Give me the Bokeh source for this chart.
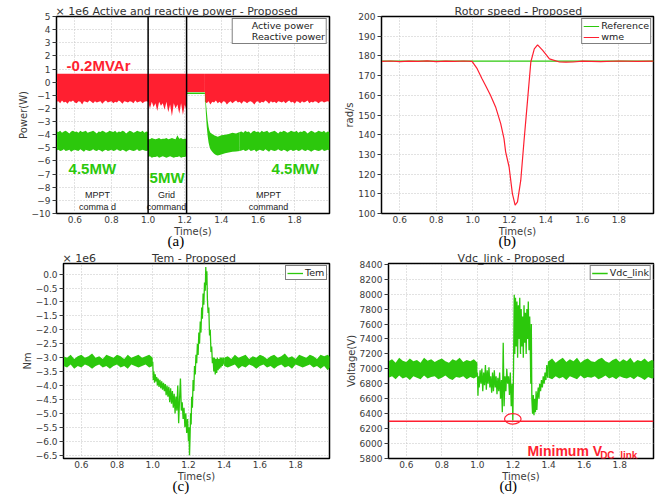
import numpy as np
from bokeh.plotting import figure
from bokeh.layouts import row, column
from bokeh.models import Label, Legend, LegendItem, Span, FixedTicker, Title
from bokeh.core.properties import value
from bokeh.embed import file_html
from bokeh.resources import INLINE

GREEN = "#2cc80c"
RED = "#ff1f30"
FONT = "DejaVu Sans"
TICKC = "#3a3a3a"
NB = "\u00a0"

# ---------------- common ticks ----------------
x_ticks = [0.6, 0.8, 1.0, 1.2, 1.4, 1.6, 1.8]
x_tick_labels = ["0.6", "0.8", "1.0", "1.2", "1.4", "1.6", "1.8"]

# ---------------- (a) active / reactive power (x 1e6 W) ----------------
a_y_ticks = [5, 4, 3, 2, 1, 0, -1, -2, -3, -4, -5, -6, -7, -8, -9, -10]
a_y_labels = ["5", "4", "3", "2", "1", "0", "\u22121", "\u22122", "\u22123", "\u22124", "\u22125",
              "\u22126", "\u22127", "\u22128", "\u22129", "\u221210"]
a_cmd_times = [1.0, 1.21]
q_top = 0.65
# reactive power lower envelope, 0.50-1.00 step 0.01
q1_lo = [-1.5, -1.45, -1.6, -1.4, -1.55, -1.5, -1.65, -1.45, -1.5, -1.4,
         -1.55, -1.6, -1.45, -1.5, -1.7, -1.45, -1.5, -1.55, -1.4, -1.5,
         -1.6, -1.45, -1.55, -1.5, -1.45, -1.65, -1.5, -1.4, -1.55, -1.5,
         -1.45, -1.6, -1.5, -1.55, -1.4, -1.5, -1.65, -1.45, -1.5, -1.55,
         -1.45, -1.5, -1.6, -1.4, -1.55, -1.5, -1.45, -1.6, -1.5, -1.45, -1.5]
# 1.00-1.21 step 0.01
q2_lo = [-1.5, -2.0, -1.5, -1.9, -1.6, -2.2, -1.5, -1.8, -1.6, -2.1, -1.5,
         -2.3, -1.7, -2.6, -1.6, -2.0, -1.7, -2.4, -1.6, -2.5, -1.7, -2.2]
# 1.21-1.31
q3_t = [1.21, 1.31]
q3_lo = [-0.75, -0.75]
# 1.31-1.99 step 0.01
q4_lo = [-1.5, -1.6, -1.45, -1.7, -1.5, -1.55, -1.4, -1.6, -1.5, -1.65,
         -1.45, -1.5, -1.7, -1.55, -1.45, -1.6, -1.5, -1.4, -1.55, -1.5,
         -1.65, -1.45, -1.5, -1.6, -1.5, -1.45, -1.55, -1.7, -1.5, -1.45,
         -1.6, -1.5, -1.55, -1.4, -1.5, -1.65, -1.45, -1.55, -1.5, -1.6,
         -1.45, -1.5, -1.55, -1.45, -1.6, -1.5, -1.4, -1.55, -1.5, -1.65,
         -1.45, -1.5, -1.6, -1.45, -1.55, -1.5, -1.4, -1.6, -1.5, -1.55,
         -1.45, -1.5, -1.6, -1.5, -1.45, -1.55, -1.5, -1.45, -1.5]
# active power envelopes
p1_hi = [-3.75, -3.8, -3.7, -3.85, -3.75, -3.7, -3.8, -3.9, -3.75, -3.7,
         -3.8, -3.75, -3.85, -3.7, -3.8, -3.75, -3.7, -3.85, -3.8, -3.75,
         -3.7, -3.8, -3.9, -3.75, -3.8, -3.7, -3.75, -3.85, -3.8, -3.7,
         -3.75, -3.8, -3.7, -3.85, -3.75, -3.8, -3.7, -3.75, -3.9, -3.8,
         -3.7, -3.75, -3.85, -3.8, -3.7, -3.75, -3.8, -3.7, -3.85, -3.75, -3.8]
p1_lo = [-5.2, -5.15, -5.25, -5.2, -5.1, -5.25, -5.2, -5.15, -5.3, -5.2,
         -5.15, -5.2, -5.25, -5.1, -5.2, -5.3, -5.15, -5.2, -5.25, -5.2,
         -5.1, -5.2, -5.25, -5.15, -5.2, -5.3, -5.2, -5.15, -5.25, -5.2,
         -5.15, -5.25, -5.2, -5.1, -5.2, -5.25, -5.15, -5.2, -5.3, -5.2,
         -5.15, -5.2, -5.25, -5.2, -5.1, -5.25, -5.2, -5.15, -5.2, -5.25, -5.2]
p2_hi = [-4.3, -4.35, -4.25, -4.3, -4.35, -4.3, -4.25, -4.35, -4.3, -4.3, -4.25,
         -4.35, -4.3, -4.25, -4.3, -4.35, -4.05, -4.3, -4.25, -4.35, -4.3, -4.3]
p2_lo = [-5.7, -5.65, -5.75, -5.7, -5.7, -5.65, -5.75, -5.7, -5.65, -5.7, -5.75,
         -5.7, -5.65, -5.7, -5.75, -5.7, -5.7, -5.65, -5.75, -5.7, -5.7, -5.65]
p3_t = [1.21, 1.31]
p3_hi = [-0.78, -0.78]
p3_lo = [-0.9, -0.9]
p4_t = [1.31, 1.315, 1.32, 1.325, 1.33, 1.335, 1.34, 1.35, 1.36, 1.37, 1.38,
        1.39, 1.40, 1.42, 1.44, 1.46, 1.48, 1.50]
p4_hi = [-0.78, -1.5, -2.2, -2.9, -3.4, -3.7, -3.85, -3.95, -4.05, -4.1, -4.15,
         -4.1, -4.05, -4.0, -3.95, -3.85, -3.9, -3.8]
p4_lo = [-0.9, -2.3, -3.4, -4.1, -4.6, -4.9, -5.1, -5.3, -5.45, -5.55, -5.58,
         -5.55, -5.5, -5.42, -5.35, -5.3, -5.28, -5.25]
p5_hi = [-3.8, -3.75, -3.85, -3.7, -3.8, -3.75, -3.9, -3.75, -3.7, -3.8,
         -3.75, -3.85, -3.7, -3.8, -3.75, -3.7, -3.85, -3.8, -3.75, -3.7,
         -3.8, -3.9, -3.75, -3.8, -3.7, -3.75, -3.85, -3.8, -3.7, -3.75,
         -3.8, -3.7, -3.85, -3.75, -3.8, -3.7, -3.75, -3.9, -3.8, -3.7,
         -3.75, -3.85, -3.8, -3.7, -3.75, -3.8, -3.7, -3.85, -3.75, -3.8]
p5_lo = [-5.25, -5.2, -5.15, -5.25, -5.2, -5.1, -5.25, -5.2, -5.15, -5.3,
         -5.2, -5.15, -5.2, -5.25, -5.1, -5.2, -5.3, -5.15, -5.2, -5.25,
         -5.2, -5.1, -5.2, -5.25, -5.15, -5.2, -5.3, -5.2, -5.15, -5.25,
         -5.2, -5.15, -5.25, -5.2, -5.1, -5.2, -5.25, -5.15, -5.2, -5.3,
         -5.2, -5.15, -5.2, -5.25, -5.2, -5.1, -5.25, -5.2, -5.15, -5.2]

# ---------------- (b) rotor speed ----------------
b_y_ticks = [100, 110, 120, 130, 140, 150, 160, 170, 180, 190, 200]
b_y_labels = [str(v) for v in b_y_ticks]
ref_t = [0.5, 1.99]
ref_w = [177.3, 177.3]
wme_t = [0.50, 0.55, 0.60, 0.65, 0.70, 0.75, 0.80, 0.85, 0.90, 0.95, 0.996, 1.024,
         1.05, 1.07, 1.097, 1.125, 1.153, 1.171, 1.18, 1.199, 1.217, 1.232, 1.245,
         1.263, 1.281, 1.30, 1.318, 1.337, 1.355, 1.383, 1.42, 1.475, 1.51, 1.549,
         1.60, 1.70, 1.80, 1.90, 1.99]
wme = [177.2, 177.4, 177.1, 177.3, 177.2, 177.5, 177.1, 177.3, 177.2, 177.4, 177.2,
       173.5, 168.5, 165.0, 160.0, 154.1, 145.6, 138.0, 131.3, 123.6, 110.1, 104.2,
       105.9, 116.9, 137.2, 157.4, 176.9, 183.6, 185.6, 182.8, 178.5, 176.9, 176.8,
       176.9, 177.3, 177.1, 177.4, 177.2, 177.3]

# ---------------- (c) Tem (x 1e6 Nm) ----------------
c_y_ticks = [0.0, -0.5, -1.0, -1.5, -2.0, -2.5, -3.0, -3.5, -4.0, -4.5, -5.0, -5.5, -6.0, -6.5]
c_y_labels = ["0.0", "\u22120.5", "\u22121.0", "\u22121.5", "\u22122.0", "\u22122.5", "\u22123.0",
              "\u22123.5", "\u22124.0", "\u22124.5", "\u22125.0", "\u22125.5", "\u22126.0", "\u22126.5"]
c1_hi = [-2.95, -3.0, -2.9, -3.05, -2.95, -2.9, -3.0, -2.95, -2.85, -3.0, -2.95, -3.05, -2.9,
         -2.95, -3.0, -2.9, -2.95, -3.05, -2.9, -3.0, -2.95, -2.9, -3.0, -2.95, -2.9, -3.0]
c1_lo = [-3.3, -3.35, -3.25, -3.4, -3.3, -3.35, -3.25, -3.3, -3.4, -3.3, -3.25, -3.35, -3.3,
         -3.4, -3.3, -3.25, -3.35, -3.3, -3.4, -3.25, -3.3, -3.35, -3.3, -3.25, -3.35, -3.3]
tem_t = [1.000, 1.003, 1.006, 1.010, 1.014, 1.018, 1.022, 1.026, 1.030, 1.035, 1.040, 1.045,
         1.050, 1.055, 1.060, 1.065, 1.070, 1.075, 1.080, 1.085, 1.090, 1.095, 1.100, 1.105,
         1.110, 1.115, 1.120, 1.125, 1.130, 1.135, 1.140, 1.145, 1.150, 1.155, 1.160, 1.165,
         1.170, 1.175, 1.180, 1.185, 1.190, 1.195, 1.200, 1.203, 1.206, 1.209, 1.212, 1.215,
         1.218, 1.222, 1.226, 1.230, 1.234, 1.238, 1.242, 1.246, 1.250, 1.254, 1.258, 1.262,
         1.266, 1.270, 1.274, 1.278, 1.282, 1.286, 1.290, 1.294, 1.297, 1.300, 1.303, 1.306,
         1.310, 1.314, 1.318, 1.322, 1.326, 1.330, 1.334, 1.338, 1.342, 1.346, 1.350, 1.354,
         1.358, 1.362, 1.366, 1.370, 1.374, 1.378, 1.382, 1.386, 1.390, 1.395, 1.400]
tem = [-3.15, -3.8, -3.5, -3.9, -3.6, -3.85, -3.7, -4.0, -3.75, -4.05, -3.8, -4.1,
       -3.85, -4.15, -3.9, -4.2, -3.95, -4.35, -4.0, -4.4, -4.05, -4.6, -4.1, -4.65,
       -4.2, -4.8, -4.3, -5.0, -4.4, -4.9, -4.0, -5.35, -4.5, -3.75, -4.9, -4.6,
       -5.2, -4.8, -5.5, -5.0, -5.7, -5.2, -6.0, -5.5, -6.5, -5.8, -5.0, -5.4,
       -4.4, -4.8, -3.8, -4.2, -3.3, -3.6, -2.9, -3.2, -2.5, -2.9, -2.1, -2.5,
       -1.7, -2.1, -1.2, -1.6, -0.7, -1.1, -0.3, -0.6, 0.25, -0.4, 0.1, -0.9,
       -1.4, -1.2, -2.2, -2.0, -2.8, -2.6, -3.2, -3.0, -3.5, -3.0, -3.6, -3.05,
       -3.55, -3.0, -3.45, -3.05, -3.4, -3.0, -3.35, -3.0, -3.3, -3.0, -3.25]
c2_hi = [-3.0, -2.95, -3.05, -2.9, -3.0, -2.95, -2.9, -3.05, -2.95, -3.0, -2.9, -2.95, -3.05,
         -2.95, -2.9, -3.0, -2.95, -2.85, -3.0, -2.95, -3.05, -2.9, -2.95, -3.0, -2.9, -2.95,
         -3.05, -2.9, -2.95, -2.9, -3.0]
c2_lo = [-3.3, -3.35, -3.3, -3.25, -3.4, -3.3, -3.35, -3.25, -3.3, -3.4, -3.3, -3.25, -3.35,
         -3.3, -3.4, -3.3, -3.25, -3.35, -3.3, -3.4, -3.25, -3.3, -3.35, -3.3, -3.25, -3.35,
         -3.3, -3.4, -3.3, -3.45, -3.3]

# ---------------- (d) Vdc_link (V) ----------------
d_y_ticks = [5800, 6000, 6200, 6400, 6600, 6800, 7000, 7200, 7400, 7600, 7800, 8000, 8200, 8400]
d_y_labels = [str(v) for v in d_y_ticks]
d1_hi = [7100, 7130, 7080, 7150, 7110, 7090, 7140, 7100, 7120, 7080, 7150, 7110, 7130,
         7090, 7120, 7140, 7100, 7080, 7130, 7110, 7150, 7090, 7120, 7100, 7130, 7080]
d1_lo = [6880, 6900, 6860, 6910, 6870, 6890, 6850, 6900, 6880, 6860, 6910, 6870, 6890,
         6900, 6860, 6880, 6910, 6870, 6850, 6890, 6880, 6900, 6860, 6890, 6870, 6900]
vdc_t = [1.000, 1.003, 1.006, 1.010, 1.015, 1.020, 1.025, 1.030, 1.035, 1.040, 1.045, 1.050,
         1.055, 1.060, 1.065, 1.070, 1.075, 1.080, 1.085, 1.090, 1.095, 1.100, 1.105, 1.110,
         1.115, 1.120, 1.125, 1.130, 1.135, 1.140, 1.145, 1.150, 1.155, 1.160, 1.165, 1.170,
         1.175, 1.180, 1.185, 1.190, 1.195, 1.199, 1.203, 1.207, 1.210, 1.214, 1.218, 1.222,
         1.226, 1.230, 1.234, 1.238, 1.242, 1.246, 1.250, 1.254, 1.258, 1.262, 1.266, 1.270,
         1.274, 1.278, 1.282, 1.286, 1.290, 1.294, 1.297, 1.300, 1.303, 1.306, 1.310, 1.314,
         1.318, 1.322, 1.326, 1.330, 1.334, 1.338, 1.342, 1.346, 1.350, 1.355, 1.360, 1.365,
         1.370, 1.375, 1.380, 1.385, 1.390, 1.395, 1.400]
vdc = [6950, 6640, 6900, 6750, 6980, 6800, 7000, 6700, 6950, 6780, 7050, 6720,
       6980, 6800, 7020, 6750, 6900, 6680, 6950, 6700, 6980, 6750, 6900, 6660,
       6880, 6700, 6950, 6600, 6850, 6420, 7350, 6500, 6900, 6700, 7000, 6800,
       6900, 6650, 6950, 6500, 6800, 6310, 7000, 7990, 7200, 7950, 7300, 7900,
       7150, 7850, 7400, 7950, 7200, 7800, 7300, 7700, 7150, 7850, 7350, 7750,
       7200, 7800, 7400, 7900, 7250, 7700, 7300, 6800, 7600, 6600, 6400, 6650,
       6380, 6600, 6420, 6700, 6450, 6650, 6750, 6600, 6800, 6700, 6850, 6750,
       6900, 6800, 6950, 6850, 7050, 6880, 7100]
d2_hi = [7100, 7140, 7080, 7120, 7150, 7090, 7130, 7100, 7150, 7080, 7120, 7140, 7100, 7090,
         7130, 7150, 7100, 7080, 7120, 7140, 7090, 7130, 7100, 7150, 7080, 7120, 7100, 7140,
         7090, 7120, 7100]
d2_lo = [6880, 6860, 6900, 6870, 6890, 6850, 6900, 6880, 6860, 6910, 6870, 6890, 6880, 6900,
         6860, 6880, 6910, 6870, 6890, 6860, 6900, 6880, 6870, 6890, 6860, 6900, 6880, 6850,
         6890, 6870, 6880]
vdc_min = 6300
vdc_min_t = [1.199]
vdc_min_v = [6330]


def tgrid(start, vals, step):
    return [round(start + step * i, 4) for i in range(len(vals))]


def make_fig(w, h, yr, bl, br, bt, bb):
    p = figure(width=w, height=h, x_range=(0.5, 1.99), y_range=yr,
               output_backend="svg", toolbar_location=None, title=None,
               min_border_left=bl, min_border_right=br, min_border_top=bt,
               min_border_bottom=bb)
    p.background_fill_color = "white"
    p.border_fill_color = "white"
    p.outline_line_color = "black"
    p.outline_line_width = 1.5
    p.grid.grid_line_color = "#c4c4c4"
    p.grid.grid_line_dash = "1 2"
    return p


def style_axes(p, yt, yl, ylabel):
    p.xaxis.ticker = FixedTicker(ticks=x_ticks)
    p.xaxis.major_label_overrides = {t: l for t, l in zip(x_ticks, x_tick_labels)}
    p.yaxis.ticker = FixedTicker(ticks=yt)
    p.yaxis.major_label_overrides = {t: l for t, l in zip(yt, yl)}
    p.xaxis.axis_label = "Time(s)"
    p.yaxis.axis_label = ylabel
    for ax in (p.xaxis[0], p.yaxis[0]):
        ax.axis_line_color = "black"
        ax.major_label_text_font = FONT
        ax.major_label_text_font_size = "9px"
        ax.major_label_text_color = TICKC
        ax.axis_label_text_font = FONT
        ax.axis_label_text_font_size = "10px"
        ax.axis_label_text_font_style = "normal"
        ax.axis_label_text_color = TICKC
        ax.axis_label_standoff = 0
        ax.minor_tick_line_color = None
        ax.major_label_standoff = 2
    p.xaxis.major_tick_out = 0
    p.xaxis.major_tick_in = 0
    p.yaxis.major_tick_out = 4
    p.yaxis.major_tick_in = 0
    p.yaxis.major_tick_line_color = TICKC


def add_title(p, text, offset):
    p.add_layout(Title(text=text, align="left", offset=offset, standoff=-2,
                       vertical_align="bottom", text_font=FONT, text_font_size="11px",
                       text_font_style="normal", text_color="#333333"), "above")


def add_caption(p, text, offset):
    p.add_layout(Title(text=text, align="left", offset=offset, standoff=-16,
                       vertical_align="middle", text_font="Liberation Serif",
                       text_font_size="15px", text_font_style="normal",
                       text_color="black"), "below")


def add_legend(p, items):
    lg = Legend(items=[LegendItem(label=l, renderers=[r]) for l, r in items],
                location="top_right")
    lg.label_text_font = FONT
    lg.label_text_font_size = "9.5px"
    lg.label_text_color = "#222222"
    lg.label_height = 8
    lg.glyph_height = 8
    lg.glyph_width = 16
    lg.label_standoff = 2
    lg.padding = 1
    lg.spacing = 0
    lg.margin = 2
    lg.border_line_color = "black"
    lg.border_line_width = 1.5
    lg.background_fill_alpha = 1
    p.add_layout(lg)


# ================= figure (a) =================
pa = make_fig(340, 250, (-10, 5), 56, 11, 16, 37)
style_axes(pa, a_y_ticks, a_y_labels, "Power(W)")
q1_t = tgrid(0.50, q1_lo, 0.01)
q2_t = tgrid(1.00, q2_lo, 0.01)
q4_t = tgrid(1.31, q4_lo, 0.01)
for t, lo in ((q1_t, q1_lo), (q2_t, q2_lo), (q3_t, q3_lo), (q4_t, q4_lo)):
    pa.varea(x=t, y1=lo, y2=[q_top] * len(lo), fill_color=RED)
p1_t = tgrid(0.50, p1_hi, 0.01)
p2_t = tgrid(1.00, p2_hi, 0.01)
p5_t = tgrid(1.50, p5_hi, 0.01)
for t, lo, hi in ((p1_t, p1_lo, p1_hi), (p2_t, p2_lo, p2_hi), (p3_t, p3_lo, p3_hi),
                  (p4_t, p4_lo, p4_hi), (p5_t, p5_lo, p5_hi)):
    pa.varea(x=t, y1=lo, y2=hi, fill_color=GREEN)
for tc in a_cmd_times:
    pa.add_layout(Span(location=tc, dimension="height", line_color="black", line_width=1.5))
leg_p = pa.line(x=[], y=[], line_color=GREEN, line_width=2)
leg_q = pa.line(x=[], y=[], line_color=RED, line_width=2)
add_legend(pa, [("Active power", leg_p), ("Reactive power", leg_q)])
for txt, x, y, col in (("-0.2MVAr", 0.555, 1.27, RED), ("4.5MW", 0.566, -6.57, GREEN),
                       ("5MW", 1.008, -7.26, GREEN), ("4.5MW", 1.674, -6.57, GREEN)):
    pa.add_layout(Label(x=x, y=y, text=txt, text_font="Liberation Sans",
                        text_font_style="bold", text_font_size="15px", text_color=col,
                        text_align="left", text_baseline="alphabetic"))
pa.text(x=[0.724, 1.10, 1.657], y=[-9.05, -9.05, -9.05],
        text=["MPPT\ncomma d", "Grid\ncommand", "MPPT\ncommand"],
        text_font=value("Liberation Sans"), text_font_size="9px", text_color="#222222",
        text_align="center", text_baseline="middle", text_line_height=1.25)
add_title(pa, "\u00d7 1e6 Active and reactive power - Proposed", -1)
add_caption(pa, "(a)", 111)

# ================= figure (b) =================
pb = make_fig(317, 250, (100, 200), 41, 4, 16, 37)
style_axes(pb, b_y_ticks, b_y_labels, "rad/s")
r_ref = pb.line(ref_t, ref_w, line_color=GREEN, line_width=1.2)
r_wme = pb.line(wme_t, wme, line_color=RED, line_width=1.2)
add_legend(pb, [("Reference", r_ref), ("wme", r_wme)])
add_title(pb, "Rotor speed - Proposed", 73)
add_caption(pb, "(b)", 117)

# ================= figure (c) =================
pc = make_fig(340, 250, (-6.62, 0.38), 63, 11, 12, 42)
style_axes(pc, c_y_ticks, c_y_labels, "Nm")
c1_t = tgrid(0.50, c1_hi, 0.02)
c2_t = tgrid(1.40, c2_hi, 0.02)
pc.varea(x=c1_t, y1=c1_lo, y2=c1_hi, fill_color=GREEN)
pc.varea(x=c2_t, y1=c2_lo, y2=c2_hi, fill_color=GREEN)
r_tem = pc.line(tem_t, tem, line_color=GREEN, line_width=1.3)
add_legend(pc, [("Tem", r_tem)])
add_title(pc, "\u00d7 1e6" + NB * 16 + "Tem - Proposed", -1)
add_caption(pc, "(c)", 109)

# ================= figure (d) =================
pd_ = make_fig(317, 250, (5800, 8410), 48, 4, 12, 42)
style_axes(pd_, d_y_ticks, d_y_labels, "Voltage(V)")
d1_t = tgrid(0.50, d1_hi, 0.02)
d2_t = tgrid(1.40, d2_hi, 0.02)
pd_.varea(x=d1_t, y1=d1_lo, y2=d1_hi, fill_color=GREEN)
pd_.varea(x=d2_t, y1=d2_lo, y2=d2_hi, fill_color=GREEN)
r_vdc = pd_.line(vdc_t, vdc, line_color=GREEN, line_width=1.3)
pd_.add_layout(Span(location=vdc_min, dimension="width", line_color=RED, line_width=1.5))
pd_.ellipse(x=vdc_min_t, y=vdc_min_v, width=0.093, height=140, fill_alpha=0,
            line_color=RED, line_width=1.2)
add_legend(pd_, [("Vdc_link", r_vdc)])
pd_.add_layout(Label(x=1.281, y=5907, text="Minimum V", text_font="Liberation Sans",
                     text_font_style="bold", text_font_size="14px", text_color=RED,
                     text_align="left", text_baseline="alphabetic"))
pd_.add_layout(Label(x=1.69, y=5845, text="DC_link", text_font="Liberation Sans",
                     text_font_style="bold", text_font_size="10px", text_color=RED,
                     text_align="left", text_baseline="alphabetic"))
add_title(pd_, "Vdc_link - Proposed", 69)
add_caption(pd_, "(d)", 111)

layout = column(row(pa, pb), row(pc, pd_))
open("out.html", "w").write(file_html(layout, INLINE))
